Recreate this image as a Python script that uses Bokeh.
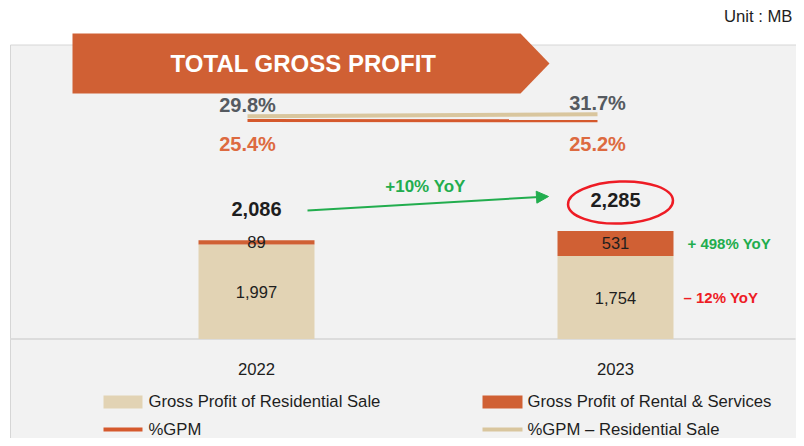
from bokeh.plotting import figure
from bokeh.models import Range1d, Arrow, NormalHead, ColumnDataSource
from bokeh.core.properties import value
from bokeh.embed import file_html
from bokeh.resources import INLINE

# ---------------- data ----------------
years = [2022, 2023]
year_labels = ["2022", "2023"]
residential = [1997, 1754]
rental = [89, 531]
totals = [2086, 2285]
gpm = [25.4, 25.2]
gpm_res = [29.8, 31.7]
yoy_total = "+10% YoY"
yoy_segments = ["+ 498% YoY", "\u2013 12% YoY"]
legend_labels = ["Gross Profit of Residential Sale", "Gross Profit of Rental & Services",
                 "%GPM", "%GPM \u2013 Residential Sale"]
title_text = "TOTAL GROSS PROFIT"
unit_text = "Unit : MB"

# ---------------- styles ----------------
TAN = "#e2d3b4"
ORANGE = "#d06034"
TAN_LINE = "#d9c69e"
ORANGE_LINE = "#d5592d"
GREEN = "#22ad4e"
RED = "#ee1c25"
DARK = "#1e1e1e"
FONT = value("Liberation Sans")

W, H = 796, 438
OX, OY = 0, 0
BAR_C0, BAR_PX = 256, 359      # image x of first bar centre, px per year
BASE_Y, PX_MB = 338.5, 0.0473  # image y of zero, px per MB
LINE_C0, LINE_PX = 247, 350    # percent lines: image x of first point, px per year
PCT_Y0, PX_PCT = 145.5, 1.0    # image y of 0 %, px per percent point
BW = 116 / BAR_PX


def xd(px):
    return years[0] + (px - BAR_C0) / BAR_PX


def yd(py):
    return (BASE_Y - py) / PX_MB


p = figure(width=W, height=H, output_backend="svg", toolbar_location=None,
           x_range=Range1d(xd(OX), xd(OX + W)), y_range=Range1d(yd(OY + H), yd(OY)),
           x_axis_type=None, y_axis_type=None, min_border=0)
p.grid.visible = False
p.outline_line_color = None
p.background_fill_color = "white"
p.border_fill_color = "white"

p.extra_x_ranges = {"lx": Range1d(years[0] - (LINE_C0 - OX) / LINE_PX,
                                  years[0] + (OX + W - LINE_C0) / LINE_PX)}
p.extra_y_ranges = {"pct": Range1d((PCT_Y0 - (OY + H)) / PX_PCT, (PCT_Y0 - OY) / PX_PCT)}

# panel
p.quad(left=xd(10), right=xd(820), top=yd(44.5), bottom=yd(470),
       fill_color="#f2f2f2", line_color="#d6d6d6", line_width=1)
# baseline
p.segment(x0=xd(10), x1=xd(795), y0=0, y1=0, line_color="#dcdcdc", line_width=2)

# banner
p.patch(x=[xd(72), xd(520), xd(549), xd(520), xd(72)],
        y=[yd(33), yd(33), yd(63), yd(93), yd(93)],
        fill_color=ORANGE, line_color=None)
p.text(x=[xd(303)], y=[yd(63)], text=[title_text], text_color="white",
       text_font=FONT, text_font_style="bold", text_font_size="24px",
       text_align="center", text_baseline="middle")
p.text(x=[xd(792)], y=[yd(16)], text=[unit_text], text_color=DARK,
       text_font=FONT, text_font_size="16.7px", text_align="right", text_baseline="middle")

# bars
tops = [r + s for r, s in zip(residential, rental)]
p.vbar(x=years, width=BW, bottom=0, top=residential, fill_color=TAN, line_color=None)
p.vbar(x=years, width=BW, bottom=residential, top=tops, fill_color=ORANGE, line_color=None)

p.text(x=years, y=[r / 2 for r in residential], text=[f"{v:,}" for v in residential],
       text_color=DARK, text_font=FONT, text_font_size="16.5px",
       text_align="center", text_baseline="middle")
p.text(x=years, y=[r + s / 2 for r, s in zip(residential, rental)],
       text=[f"{v:,}" for v in rental], text_color=DARK, text_font=FONT,
       text_font_size="16.5px", text_align="center", text_baseline="middle")
p.text(x=years, y=totals, text=[f"{v:,}" for v in totals], y_offset=-31,
       text_color=DARK, text_font=FONT, text_font_style="bold", text_font_size="20px",
       text_align="center", text_baseline="middle")
p.text(x=years, y=[0, 0], text=year_labels, y_offset=30, text_color=DARK,
       text_font=FONT, text_font_size="16.7px", text_align="center", text_baseline="middle")

# segment YoY labels (2023)
seg_src = ColumnDataSource(dict(
    x=[years[1] + BW / 2] * 2,
    y=[residential[1] + rental[1] / 2, residential[1] / 2],
    text=yoy_segments,
    color=[GREEN, RED],
    dx=[14, 10],
))
p.text(x="x", y="y", text="text", text_color="color", x_offset="dx", source=seg_src,
       text_font=FONT, text_font_style="bold", text_font_size="15px",
       text_align="left", text_baseline="middle")

# percent lines
p.line(x=years, y=gpm_res, x_range_name="lx", y_range_name="pct",
       line_color=TAN_LINE, line_width=4)
p.line(x=years, y=gpm, x_range_name="lx", y_range_name="pct",
       line_color=ORANGE_LINE, line_width=3)
p.text(x=years, y=gpm_res, text=[f"{v}%" for v in gpm_res], x_range_name="lx",
       y_range_name="pct", y_offset=-11, text_color="#555a60", text_font=FONT,
       text_font_style="bold", text_font_size="20px", text_align="center",
       text_baseline="middle")
p.text(x=years, y=gpm, text=[f"{v}%" for v in gpm], x_range_name="lx",
       y_range_name="pct", y_offset=23, text_color="#dd6a40", text_font=FONT,
       text_font_style="bold", text_font_size="20px", text_align="center",
       text_baseline="middle")

# growth arrow
p.add_layout(Arrow(x_start=xd(307), y_start=yd(210), x_end=xd(548), y_end=yd(196),
                   line_color=GREEN, line_width=2,
                   end=NormalHead(size=12, fill_color=GREEN, line_color=GREEN)))
p.text(x=[xd(425)], y=[yd(186)], text=[yoy_total], text_color=GREEN, text_font=FONT,
       text_font_style="bold", text_font_size="17px", text_align="center",
       text_baseline="middle")
p.ellipse(x=[xd(620)], y=[yd(202)], width=105, height=42, width_units="screen",
          height_units="screen", angle=0.04, fill_color=None, line_color=RED, line_width=2.5)

# legend
p.quad(left=[xd(103), xd(482)], right=[xd(142), xd(522)], top=yd(395), bottom=yd(408),
       fill_color=[TAN, ORANGE], line_color=None)
p.segment(x0=[xd(103), xd(482)], x1=[xd(142), xd(522)], y0=yd(429), y1=yd(429),
          line_color=[ORANGE_LINE, TAN_LINE], line_width=4)
p.text(x=[xd(148), xd(527), xd(148), xd(527)], y=[yd(401), yd(401), yd(429), yd(429)],
       text=legend_labels, text_color=DARK, text_font=FONT, text_font_size="16.7px",
       text_align="left", text_baseline="middle")

open("out.html", "w").write(file_html(p, INLINE))
